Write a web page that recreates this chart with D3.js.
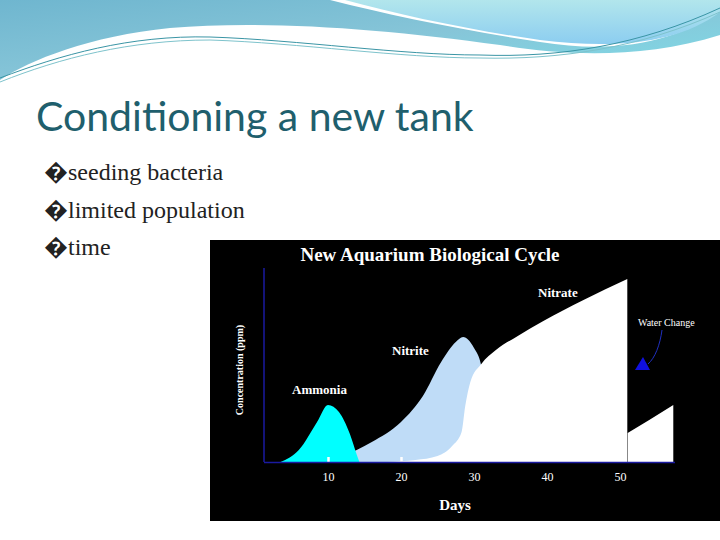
<!DOCTYPE html>
<html><head><meta charset="utf-8">
<script src="https://cdn.jsdelivr.net/npm/d3@7"></script>
<style>body{margin:0;background:#fff}svg{display:block}</style>
</head><body>
<script>
const ticks = [10,20,30,40,50];
const ammonia = [[3.5,0],[6,6],[8.5,20],[10,28.5],[11.5,25],[13,14],[14,3],[14.3,0]];
const nitrite = [[8,0],[12,3],[16,10],[20,20],[23,33],[25.5,50],[27.5,60],[28.5,62.5],[30,57],[31,48],[32,20],[33,0]];
const nitrateA = [[18,0],[22,1],[25,3],[27,8],[28.3,15],[28.8,28],[29.5,40],[31,49],[33,56],[36,63],[39.5,70.5],[45,81],[51,91.5]];
const nitrateB = [[51.05,14.5],[54,21],[57.3,28.5]];

const svg = d3.select("body").append("svg").attr("width",720).attr("height",540);
const defs = svg.append("defs");
const g1 = defs.append("linearGradient").attr("id","hg").attr("x1",0).attr("y1",0).attr("x2",1).attr("y2",1);
g1.append("stop").attr("offset",0).attr("stop-color","#6fb6cf");
g1.append("stop").attr("offset",0.5).attr("stop-color","#86c5d8");
g1.append("stop").attr("offset",1).attr("stop-color","#7fdde8");
const g2 = defs.append("linearGradient").attr("id","hg2").attr("x1",0).attr("y1",0).attr("x2",0).attr("y2",1);
g2.append("stop").attr("offset",0).attr("stop-color","#b2e6ec");
g2.append("stop").attr("offset",1).attr("stop-color","#8ccdf0");
// header waves
svg.append("path").attr("d","M0,0 H720 V35 C640,60 560,55 500,45 C380,28 260,20 170,28 C90,36 30,60 0,80 Z").attr("fill","url(#hg)");
svg.append("path").attr("d","M330,0 H720 V10 C680,40 620,55 540,42 C460,30 390,15 330,0 Z").attr("fill","#fff");
svg.append("path").attr("d","M345,0 H720 V12 C680,42 620,50 540,40 C470,30 400,15 345,0 Z").attr("fill","url(#hg2)");
svg.append("path").attr("d","M0,78 C60,55 130,35 210,37 C300,40 400,55 480,55 C560,58 640,45 720,8").attr("fill","none").attr("stroke","#3a95a5").attr("stroke-width",1);
svg.append("path").attr("d","M0,82 C60,58 130,40 210,40 C300,43 400,58 480,58 C560,60 640,48 720,12").attr("fill","none").attr("stroke","#7ec3cc").attr("stroke-width",1);

svg.append("text").attr("x",36).attr("y",131).attr("font-family","Lato, 'Open Sans', sans-serif").attr("font-size",41).attr("fill","#1f5f6d").text("Conditioning a new tank");
["seeding bacteria","limited population","time"].forEach((t,i)=>{
  svg.append("text").attr("x",44).attr("y",180+i*37.5).attr("font-family","'Liberation Serif', serif").attr("font-size",24).attr("fill","#222").text("\uFFFD"+t);
});

// chart
svg.append("rect").attr("x",210).attr("y",240).attr("width",510).attr("height",281).attr("fill","#000");
const x = d3.scaleLinear().domain([0,10]).range([255,328]);
const y = d3.scaleLinear().domain([0,100]).range([462,262]);
const area = d3.area().x(d=>x(d[0])).y0(y(0)).y1(d=>y(d[1])).curveMonotoneX;
const ar = d3.area().x(d=>x(d[0])).y0(y(0)).y1(d=>y(d[1])).curve(d3.curveMonotoneX);
svg.append("path").datum(nitrite).attr("d",ar).attr("fill","#bfdcf7");
svg.append("path").datum(ammonia).attr("d",ar).attr("fill","#00ffff");
svg.append("path").datum(nitrateA).attr("d",ar).attr("fill","#fff");
svg.append("path").datum(nitrateB).attr("d",d3.area().x(d=>x(d[0])).y0(y(0)).y1(d=>y(d[1]))).attr("fill","#fff");

const ax = svg.append("g").attr("transform","translate(0,462)")
  .call(d3.axisBottom(x).tickValues(ticks).tickSize(-5).tickPadding(10));
ax.select(".domain").remove();
ax.selectAll("line").attr("stroke","#fff").attr("stroke-width",2.5);
ax.selectAll("text").attr("fill","#fff").attr("font-family","'Liberation Serif', serif").attr("font-size",12);
svg.append("line").attr("x1",264).attr("x2",675).attr("y1",462.5).attr("y2",462.5).attr("stroke","#1a1aa0").attr("stroke-width",1.5);
svg.append("line").attr("x1",264).attr("x2",264).attr("y1",268).attr("y2",462).attr("stroke","#1a1aa0").attr("stroke-width",1.5);

const serif = "'Liberation Serif', 'DejaVu Serif', serif";
svg.append("text").attr("x",430).attr("y",261).attr("text-anchor","middle").attr("font-family",serif).attr("font-weight","bold").attr("font-size",19).attr("fill","#fff").text("New Aquarium Biological Cycle");
[["Nitrate",538,297],["Nitrite",392,355],["Ammonia",292,394]].forEach(l=>{
  svg.append("text").attr("x",l[1]).attr("y",l[2]).attr("font-family",serif).attr("font-weight","bold").attr("font-size",13).attr("fill","#fff").text(l[0]);
});
svg.append("text").attr("transform","translate(243,370) rotate(-90)").attr("text-anchor","middle").attr("font-family",serif).attr("font-weight","bold").attr("font-size",10).attr("fill","#fff").text("Concentration (ppm)");
svg.append("text").attr("x",455).attr("y",510).attr("text-anchor","middle").attr("font-family",serif).attr("font-weight","bold").attr("font-size",15).attr("fill","#fff").text("Days");
svg.append("text").attr("x",638).attr("y",326).attr("font-family",serif).attr("font-size",10).attr("fill","#fff").text("Water Change");
svg.append("path").attr("d","M662,330 C660,345 655,358 648,364").attr("fill","none").attr("stroke","#2030c0").attr("stroke-width",1);
svg.append("path").attr("d","M635,370 L650,370 L643,357 Z").attr("fill","#1010e0");
</script>
</body></html>
